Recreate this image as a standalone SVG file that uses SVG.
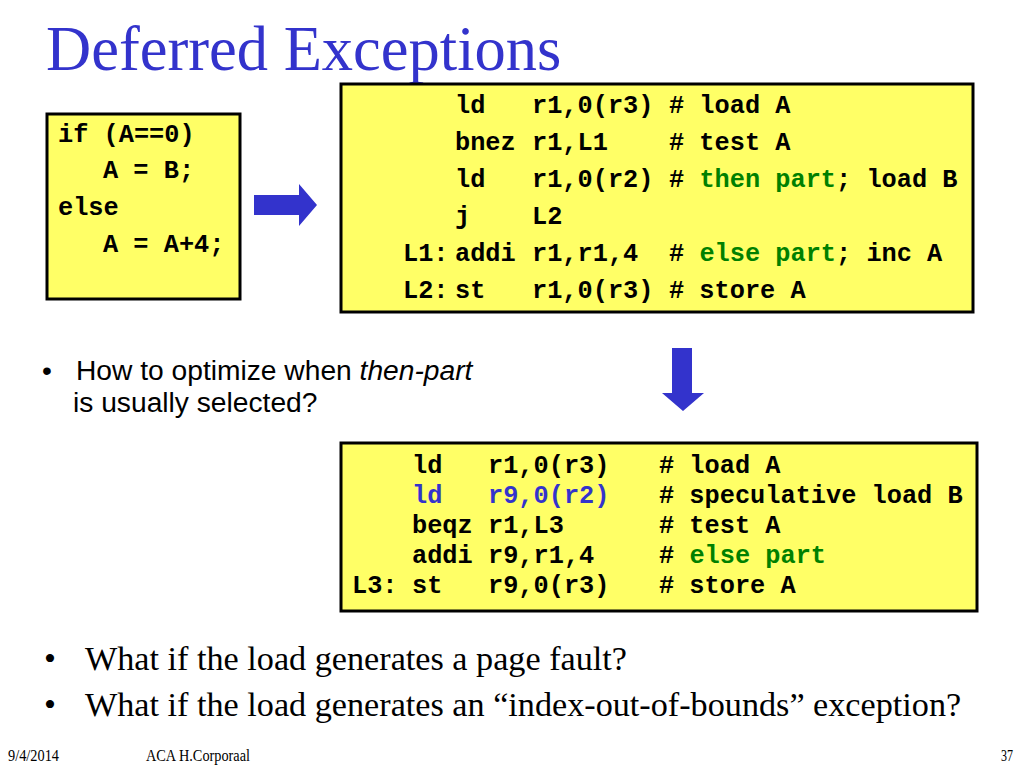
<svg xmlns="http://www.w3.org/2000/svg" width="1024" height="768" viewBox="0 0 1024 768">
<style>
.box{fill:#ffff66;stroke:#000;stroke-width:3}
.code{font-family:"Liberation Mono","Courier New",monospace;font-weight:bold;font-size:25.3px;fill:#000}
.g{fill:#008000}
.b{fill:#3333cc}
.arrow{fill:#3333cc}
.title{font-family:"Liberation Serif","Times New Roman",serif;font-size:62.5px;fill:#3333cc}
.sans{font-family:"Liberation Sans",Arial,sans-serif;font-size:28.2px;fill:#000}
.serif{font-family:"Liberation Serif","Times New Roman",serif;font-size:34.2px;fill:#000}
.foot{font-family:"Liberation Serif","Times New Roman",serif;font-size:16px;fill:#000}
</style>
<rect width="1024" height="768" fill="#fff"/>
<text id="title" class="title" x="46" y="70">Deferred Exceptions</text>

<g id="source">
<rect class="box" x="47" y="114" width="193" height="185"/>
<text class="code" x="58" y="141.5">if (A==0)</text>
<text class="code" x="103" y="178">A = B;</text>
<text class="code" x="58" y="214.5">else</text>
<text class="code" x="103" y="251.5">A = A+4;</text>
</g>

<g id="code1">
<rect class="box" x="341" y="84" width="632" height="228"/>
<text class="code" y="113"><tspan x="455">ld</tspan><tspan x="532">r1,0(r3)</tspan><tspan x="669"># load A</tspan></text>
<text class="code" y="150"><tspan x="455">bnez</tspan><tspan x="532">r1,L1</tspan><tspan x="669"># test A</tspan></text>
<text class="code" y="186.5"><tspan x="455">ld</tspan><tspan x="532">r1,0(r2)</tspan><tspan x="669"># <tspan class="g">then part</tspan>; load B</tspan></text>
<text class="code" y="223.5"><tspan x="455">j</tspan><tspan x="532">L2</tspan></text>
<text class="code" y="260.5"><tspan x="403">L1:</tspan><tspan x="455">addi</tspan><tspan x="532">r1,r1,4</tspan><tspan x="669"># <tspan class="g">else part</tspan>; inc A</tspan></text>
<text class="code" y="297.5"><tspan x="403">L2:</tspan><tspan x="455">st</tspan><tspan x="532">r1,0(r3)</tspan><tspan x="669"># store A</tspan></text>
</g>

<g id="question">
<text class="sans" x="42" y="380">•</text>
<text class="sans" x="76" y="380">How to optimize when <tspan font-style="italic">then-part</tspan></text>
<text class="sans" x="73" y="412">is usually selected?</text>
</g>

<g id="code2">
<rect class="box" x="341" y="443" width="636" height="168"/>
<text class="code" y="473"><tspan x="412">ld</tspan><tspan x="488">r1,0(r3)</tspan><tspan x="659"># load A</tspan></text>
<text class="code" y="503"><tspan x="412" class="b">ld</tspan><tspan x="488" class="b">r9,0(r2)</tspan><tspan x="659"># speculative load B</tspan></text>
<text class="code" y="533"><tspan x="412">beqz</tspan><tspan x="488">r1,L3</tspan><tspan x="659"># test A</tspan></text>
<text class="code" y="563"><tspan x="412">addi</tspan><tspan x="488">r9,r1,4</tspan><tspan x="659"># <tspan class="g">else part</tspan></tspan></text>
<text class="code" y="593"><tspan x="352">L3:</tspan><tspan x="412">st</tspan><tspan x="488">r9,0(r3)</tspan><tspan x="659"># store A</tspan></text>
</g>

<g id="connectors">
<polygon class="arrow" points="254,195 299,195 299,184 317,205 299,226 299,215 254,215"/>
<polygon class="arrow" points="672,348 692,348 692,393 704,393 683,411 662,393 672,393"/>
</g>

<g id="bullets">
<text class="serif" x="44" y="670">•</text>
<text class="serif" x="85" y="670">What if the load generates a page fault?</text>
<text class="serif" x="44" y="716">•</text>
<text class="serif" x="85" y="716">What if the load generates an “index-out-of-bounds” exception?</text>
</g>

<g id="footer">
<text class="foot" x="8" y="761" textLength="51" lengthAdjust="spacingAndGlyphs">9/4/2014</text>
<text class="foot" x="146" y="761" textLength="104" lengthAdjust="spacingAndGlyphs">ACA H.Corporaal</text>
<text class="foot" x="1001" y="761" textLength="12" lengthAdjust="spacingAndGlyphs">37</text>
</g>
</svg>
